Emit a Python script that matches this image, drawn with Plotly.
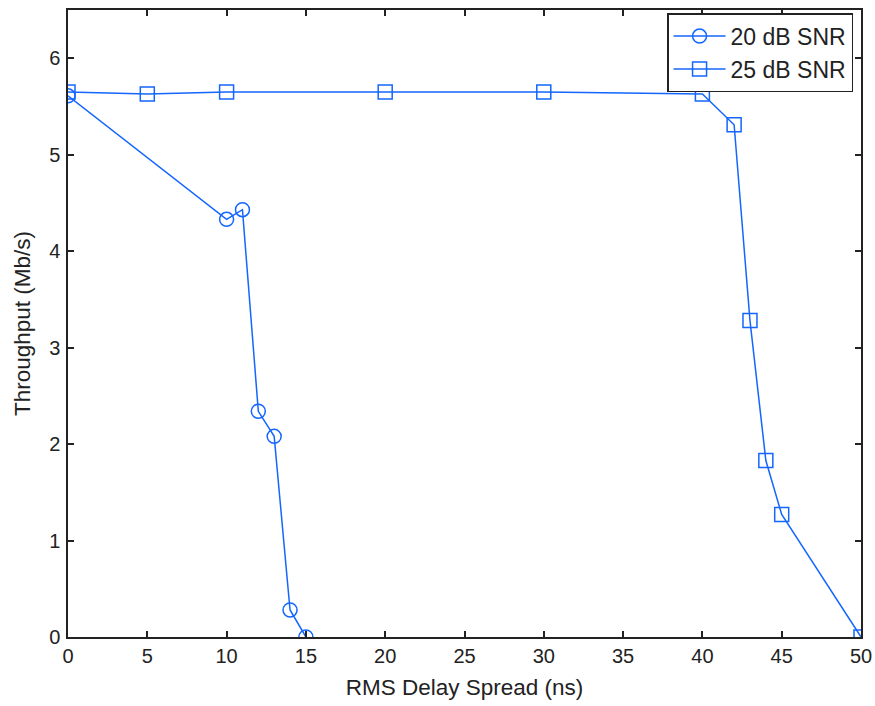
import plotly.graph_objects as go

x20 = [0, 10, 11, 12, 13, 14, 15]
y20 = [5.61, 4.33, 4.43, 2.34, 2.08, 0.28, 0.0]
x25 = [0, 5, 10, 20, 30, 40, 42, 43, 44, 45, 50]
y25 = [5.65, 5.63, 5.65, 5.65, 5.65, 5.63, 5.31, 3.28, 1.83, 1.27, 0.0]
names = ["20 dB SNR", "25 dB SNR"]
xticks = [0, 5, 10, 15, 20, 25, 30, 35, 40, 45, 50]
yticks = [0, 1, 2, 3, 4, 5, 6]

BLUE = "#1466ff"
FONT = "Liberation Sans"

fig = go.Figure()
fig.add_trace(go.Scatter(x=x20, y=y20, name=names[0], mode="lines+markers",
                         line=dict(color=BLUE, width=1.5),
                         marker=dict(symbol="circle-open", size=14, color=BLUE,
                                     line=dict(width=1.5, color=BLUE))))
fig.add_trace(go.Scatter(x=x25, y=y25, name=names[1], mode="lines+markers",
                         line=dict(color=BLUE, width=1.5),
                         marker=dict(symbol="square-open", size=14, color=BLUE,
                                     line=dict(width=1.5, color=BLUE))))

axis_common = dict(showline=True, linecolor="#222", linewidth=1.5, mirror="ticks",
                   ticks="inside", ticklen=6, tickwidth=1.5, tickcolor="#222",
                   showgrid=False, zeroline=False, automargin=False,
                   tickfont=dict(family=FONT, size=20, color="#222"))

fig.update_xaxes(range=[0, 50], tickvals=xticks,
                 title=dict(text="RMS Delay Spread (ns)", standoff=13,
                            font=dict(family=FONT, size=22.5, color="#222")),
                 **axis_common)
fig.update_yaxes(range=[0, 6.5], tickvals=yticks, ticklabelstandoff=2,
                 title=dict(text="Throughput (Mb/s)", standoff=12,
                            font=dict(family=FONT, size=22.5, color="#222")),
                 **axis_common)

fig.update_layout(
    width=875, height=706,
    margin=dict(l=68, r=14, t=10, b=69),
    plot_bgcolor="white", paper_bgcolor="white",
    font=dict(family=FONT, color="#222"),
    legend=dict(x=0.99, y=0.995, xanchor="right", yanchor="top",
                bordercolor="#222", borderwidth=1.5, bgcolor="white",
                font=dict(family=FONT, size=23, color="#222"),
                itemwidth=52, tracegroupgap=0),
    showlegend=True,
)

fig.write_html("out.html")
